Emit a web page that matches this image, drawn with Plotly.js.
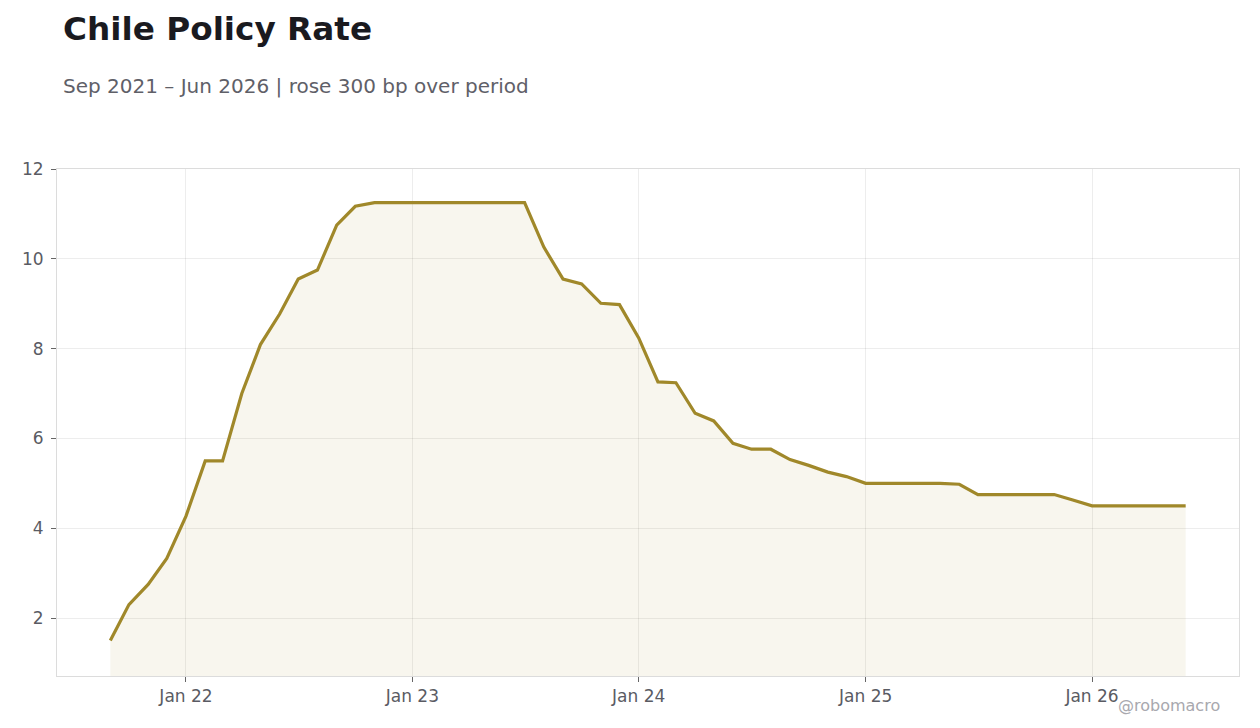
<!DOCTYPE html>
<html>
<head>
<meta charset="utf-8">
<script src="https://cdn.plot.ly/plotly-3.0.1.min.js"></script>
<style>
  body { margin: 0; background: #fff; }
  #chart { width: 1260px; height: 728px; }
</style>
</head>
<body>
<div id="chart"></div>
<script>
// monthly policy rate, Sep 2021 - Jun 2026
var months = [
    "2021-09-01", "2021-10-01", "2021-11-01", "2021-12-01",
    "2022-01-01", "2022-02-01", "2022-03-01", "2022-04-01", "2022-05-01", "2022-06-01",
    "2022-07-01", "2022-08-01", "2022-09-01", "2022-10-01", "2022-11-01", "2022-12-01",
    "2023-01-01", "2023-02-01", "2023-03-01", "2023-04-01", "2023-05-01", "2023-06-01",
    "2023-07-01", "2023-08-01", "2023-09-01", "2023-10-01", "2023-11-01", "2023-12-01",
    "2024-01-01", "2024-02-01", "2024-03-01", "2024-04-01", "2024-05-01", "2024-06-01",
    "2024-07-01", "2024-08-01", "2024-09-01", "2024-10-01", "2024-11-01", "2024-12-01",
    "2025-01-01", "2025-02-01", "2025-03-01", "2025-04-01", "2025-05-01", "2025-06-01",
    "2025-07-01", "2025-08-01", "2025-09-01", "2025-10-01", "2025-11-01", "2025-12-01",
    "2026-01-01", "2026-02-01", "2026-03-01", "2026-04-01", "2026-05-01", "2026-06-01"
];

var rate = [
    1.5, 2.3, 2.75, 3.33,
    4.27, 5.5, 5.5, 7.0, 8.09, 8.77,
    9.55, 9.75, 10.75, 11.17, 11.25, 11.25,
    11.25, 11.25, 11.25, 11.25, 11.25, 11.25,
    11.25, 10.26, 9.55, 9.44, 9.01, 8.98,
    8.24, 7.26, 7.24, 6.56, 6.39, 5.89,
    5.76, 5.76, 5.53, 5.4, 5.25, 5.15,
    5.0, 5.0, 5.0, 5.0, 5.0, 4.98,
    4.75, 4.75, 4.75, 4.75, 4.75, 4.63,
    4.5, 4.5, 4.5, 4.5, 4.5, 4.5
];

var TITLE = "Chile Policy Rate";
var SUBTITLE = "Sep 2021 – Jun 2026 | rose 300 bp over period";
var CREDIT = "@robomacro";

var LINE_COLOR = "rgb(160, 136, 42)";
var FONT = "DejaVu Sans, sans-serif";

var trace = {
    x: months,
    y: rate,
    type: "scatter",
    mode: "lines",
    fill: "tozeroy",
    fillcolor: "rgba(160, 136, 42, 0.08)",
    hoverinfo: "x+y",
    line: {
        color: LINE_COLOR,
        width: 3.2
    }
};

Plotly.newPlot("chart", [trace], {
    width: 1260,
    height: 728,
    paper_bgcolor: "#ffffff",
    plot_bgcolor: "#ffffff",
    showlegend: false,
    font: { family: FONT, color: "#5f6068", size: 17 },
    margin: { l: 57, r: 21, t: 169, b: 52, pad: 0 },
    title: {
        text: "<b>" + TITLE + "</b>",
        font: { family: FONT, size: 32.7, color: "#1a1a1f" },
        xref: "container",
        yref: "container",
        x: 63 / 1260,
        xanchor: "left",
        y: 1 - 17 / 728,
        yanchor: "top"
    },
    xaxis: {
        type: "date",
        range: ["2021-06-07", "2026-08-26"],
        dtick: "M12",
        tick0: "2022-01-01",
        tickformat: "%b %y",
        ticks: "outside",
        ticklen: 5,
        tickcolor: "#666",
        showgrid: true,
        gridcolor: "rgba(0, 0, 0, 0.07)",
        gridwidth: 1,
        showline: true,
        linecolor: "#dcdcdc",
        linewidth: 1,
        mirror: true,
        zeroline: false,
        tickfont: { size: 17, color: "#5a5b63" }
    },
    yaxis: {
        range: [0.71, 12],
        dtick: 2,
        ticks: "outside",
        ticklen: 5,
        tickcolor: "#666",
        ticklabelstandoff: 4,
        showgrid: true,
        gridcolor: "rgba(0, 0, 0, 0.07)",
        gridwidth: 1,
        showline: true,
        linecolor: "#dcdcdc",
        linewidth: 1,
        mirror: true,
        zeroline: false,
        tickfont: { size: 17, color: "#5a5b63" }
    },
    annotations: [
        {
            text: SUBTITLE,
            xref: "paper",
            yref: "paper",
            x: 0,
            xshift: 4,
            xanchor: "left",
            y: 1,
            yshift: 169 - 86,
            yanchor: "middle",
            showarrow: false,
            font: { family: FONT, size: 20, color: "#5f6068" }
        },
        {
            text: CREDIT,
            xref: "paper",
            yref: "paper",
            x: 1,
            xshift: -17,
            xanchor: "right",
            y: 0,
            yshift: -29,
            yanchor: "middle",
            showarrow: false,
            font: { family: FONT, size: 16, color: "#a8a8ae" }
        }
    ]
}, {
    displayModeBar: false,
    responsive: false
});
</script>
</body>
</html>
